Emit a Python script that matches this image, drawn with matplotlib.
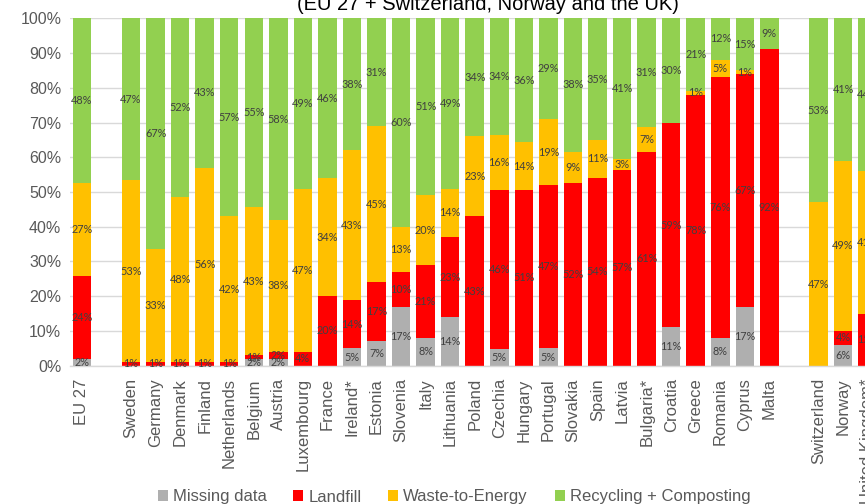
import numpy as np
import matplotlib.pyplot as plt
from matplotlib.patches import Patch

# Состав групп стран (пустые места между группами задаются отдельно)
countries = ['EU 27',
             'Sweden', 'Germany', 'Denmark', 'Finland', 'Netherlands', 'Belgium',
             'Austria', 'Luxembourg', 'France', 'Ireland*', 'Estonia', 'Slovenia',
             'Italy', 'Lithuania', 'Poland', 'Czechia', 'Hungary', 'Portugal',
             'Slovakia', 'Spain', 'Latvia', 'Bulgaria*', 'Croatia', 'Greece',
             'Romania', 'Cyprus', 'Malta',
             'Switzerland', 'Norway', 'United Kingdom*']
group_sizes = [1, 27, 3]

# Доли (%) по способам обращения с отходами
missing = [2,
           0, 0, 0, 0, 0, 2, 2, 0, 0, 5, 7, 17, 8, 14, 0, 5, 0, 5,
           0, 0, 0, 0, 11, 0, 8, 17, 0,
           0, 6, 0]
landfill = [24,
            1, 1, 1, 1, 1, 1, 2, 4, 20, 14, 17, 10, 21, 23, 43, 46, 51, 47,
            52, 54, 57, 61, 59, 78, 76, 67, 92,
            0, 4, 15]
wte = [27,
       53, 33, 48, 56, 42, 43, 38, 47, 34, 43, 45, 13, 20, 14, 23, 16, 14, 19,
       9, 11, 3, 7, 0, 1, 5, 1, 0,
       47, 49, 41]
recycling = [48,
             47, 67, 52, 43, 57, 55, 58, 49, 46, 38, 31, 60, 51, 49, 34, 34, 36, 29,
             38, 35, 41, 31, 30, 21, 12, 15, 9,
             53, 41, 44]

series = [('Missing data', missing, '#AFAFAF'),
          ('Landfill', landfill, '#FF0000'),
          ('Waste-to-Energy', wte, '#FFC000'),
          ('Recycling + Composting', recycling, '#92D050')]

# Позиции столбцов с пропуском одной позиции между группами
x = []
pos = 0
for size in group_sizes:
    x.extend(range(pos, pos + size))
    pos += size + 1
x = np.array(x)

# Нормировка на 100% (округлённые доли дают в сумме 99-101)
totals = np.sum([np.array(v, dtype=float) for _, v, _ in series], axis=0)

plt.rcParams['font.family'] = ['Liberation Sans', 'DejaVu Sans']
fig = plt.figure(figsize=(8.65, 5.04), dpi=100)
ax = fig.add_axes([0.0805, 0.2744, 0.9367, 0.6893])

bottom = np.zeros(len(countries))
for name, vals, color in series:
    vals = np.array(vals, dtype=float)
    heights = vals / totals * 100
    ax.bar(x, heights, 0.755, bottom=bottom, color=color, label=name, zorder=2)
    for xi, b, h, v in zip(x, bottom, heights, vals):
        if v > 0:
            ax.text(xi, b + h / 2, f'{int(v)}%', ha='center', va='center',
                    fontsize=7.8, color='#404040', family=['Lato', 'DejaVu Sans'],
                    zorder=3, clip_on=False)
    bottom += heights

ax.set_xlim(-0.5, x[-1] + 0.5)
ax.set_ylim(0, 100)
ax.set_yticks(range(0, 101, 10))
ax.set_yticklabels([f'{t}%' for t in range(0, 101, 10)], fontsize=11.5, color='#595959')
ax.set_xticks(x)
ax.set_xticklabels(countries, rotation=90, fontsize=12, color='#595959', va='top')
ax.tick_params(axis='both', length=0)
ax.tick_params(axis='x', pad=9)
ax.tick_params(axis='y', pad=6)
ax.grid(axis='y', color='#D9D9D9', linewidth=1, zorder=0)
for side in ['left', 'right', 'top']:
    ax.spines[side].set_visible(False)
ax.spines['bottom'].set_color('#D9D9D9')
ax.spines['bottom'].set_linewidth(1)

fig.text(488 / 865, 1 - 10 / 504, '(EU 27 + Switzerland, Norway and the UK)',
         ha='center', va='baseline', fontsize=14.5, color='#000000')

handles = [Patch(facecolor=c, edgecolor='none', label=n) for n, _, c in series]
fig.legend(handles=handles, loc='center', bbox_to_anchor=(454 / 865, 1 - 497 / 504),
           ncol=4, frameon=False, fontsize=12, labelcolor='#595959',
           handlelength=0.6, handleheight=0.6, handletextpad=0.3, columnspacing=1.6,
           borderpad=0)

fig.savefig('out.png', dpi=100)
